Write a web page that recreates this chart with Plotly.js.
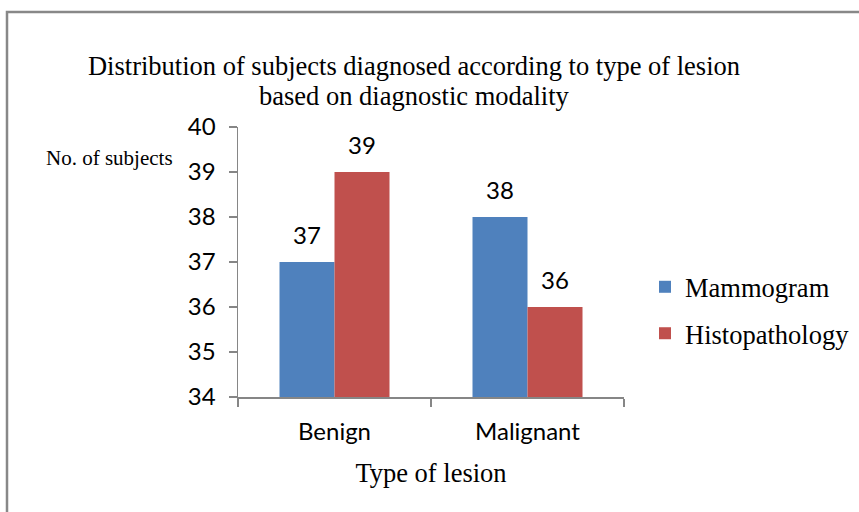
<!DOCTYPE html>
<html>
<head>
<meta charset="utf-8">
<script src="https://cdn.plot.ly/plotly-3.0.1.min.js"></script>
<style>html,body{margin:0;padding:0;background:#fff;}#chart{width:859px;height:512px;}</style>
</head>
<body>
<div id="chart"></div>
<script>
var categories = ["Benign", "Malignant"];
var mammogram = [37, 38];
var histopathology = [39, 36];
var seriesNames = ["Mammogram", "Histopathology"];
var yTicks = [34, 35, 36, 37, 38, 39, 40];
var titleLines = ["Distribution of subjects diagnosed according to type of lesion", "based on diagnostic modality"];

var colors = ["#4F81BD", "#C0504D"];
var bargap = 0.43;
var serif = "Liberation Serif, Times New Roman, serif";
var sans = "Lato, Carlito, Calibri, sans-serif";

var series = [mammogram, histopathology];
var traces = series.map(function (vals, k) {
  return {
    type: "bar",
    name: seriesNames[k],
    x: categories,
    y: vals,
    marker: {color: colors[k]},
    legendgroup: "g" + k,
    hoverinfo: "none"
  };
});

var off = (1 - bargap) / 4;
var annotations = [];
series.forEach(function (vals, k) {
  vals.forEach(function (v, i) {
    annotations.push({
      x: i + (k === 0 ? -off : off), y: v, xref: "x", yref: "y",
      text: String(v), showarrow: false, yanchor: "bottom", yshift: 11,
      font: {family: sans, size: 24, color: "#000"}
    });
  });
});
annotations.push({
  xref: "paper", yref: "paper", x: (109 - 238) / 386, y: 0.885,
  text: "No. of subjects", showarrow: false, xanchor: "center", yanchor: "middle",
  font: {family: serif, size: 21, color: "#000"}
});
annotations.push({
  xref: "paper", yref: "paper", x: (414 - 238) / 386, y: (397 - 96) / 270,
  text: titleLines[1], showarrow: false, xanchor: "center", yanchor: "middle",
  font: {family: serif, size: 26.5, color: "#000"}
});

var layout = {
  width: 859, height: 512,
  margin: {l: 238, r: 235, t: 127, b: 115, autoexpand: false},
  paper_bgcolor: "#fff", plot_bgcolor: "#fff",
  barmode: "group",
  bargap: bargap,
  bargroupgap: 0,
  title: {
    text: titleLines[0],
    x: 414 / 859, xanchor: "center", xref: "container",
    y: 1 - 66 / 512, yanchor: "middle", yref: "container",
    font: {family: serif, size: 26.5, color: "#000"}
  },
  xaxis: {
    type: "category",
    tickson: "boundaries",
    automargin: false,
    ticks: "outside", ticklen: 8, tickcolor: "#868686", tickwidth: 1.5,
    showline: true, linecolor: "#868686", linewidth: 1.5,
    showgrid: false, zeroline: false,
    ticklabelstandoff: 13,
    tickfont: {family: sans, size: 24, color: "#000"},
    title: {text: "Type of lesion", standoff: 19, font: {family: serif, size: 26.5, color: "#000"}}
  },
  yaxis: {
    range: [34, 40],
    tickvals: yTicks,
    automargin: false,
    ticks: "outside", ticklen: 8, tickcolor: "#868686", tickwidth: 1.5,
    showline: true, linecolor: "#868686", linewidth: 1.5,
    showgrid: false, zeroline: false,
    ticklabelstandoff: 8,
    tickfont: {family: sans, size: 24, color: "#000"}
  },
  legend: {
    x: (645 - 238) / 386, xanchor: "left", y: 0.322, yanchor: "middle",
    font: {family: serif, size: 26.5, color: "#000"},
    traceorder: "grouped", tracegroupgap: 9,
    itemwidth: 30, bgcolor: "rgba(0,0,0,0)"
  },
  annotations: annotations,
  shapes: [{
    type: "rect", xref: "paper", yref: "paper",
    x0: (7 - 238) / 386, x1: 2, y0: -1, y1: (397 - 12) / 270,
    line: {color: "#888888", width: 2.5}, fillcolor: "rgba(0,0,0,0)", layer: "below"
  }]
};

Plotly.newPlot("chart", traces, layout, {displayModeBar: false, staticPlot: true});
</script>
</body>
</html>
